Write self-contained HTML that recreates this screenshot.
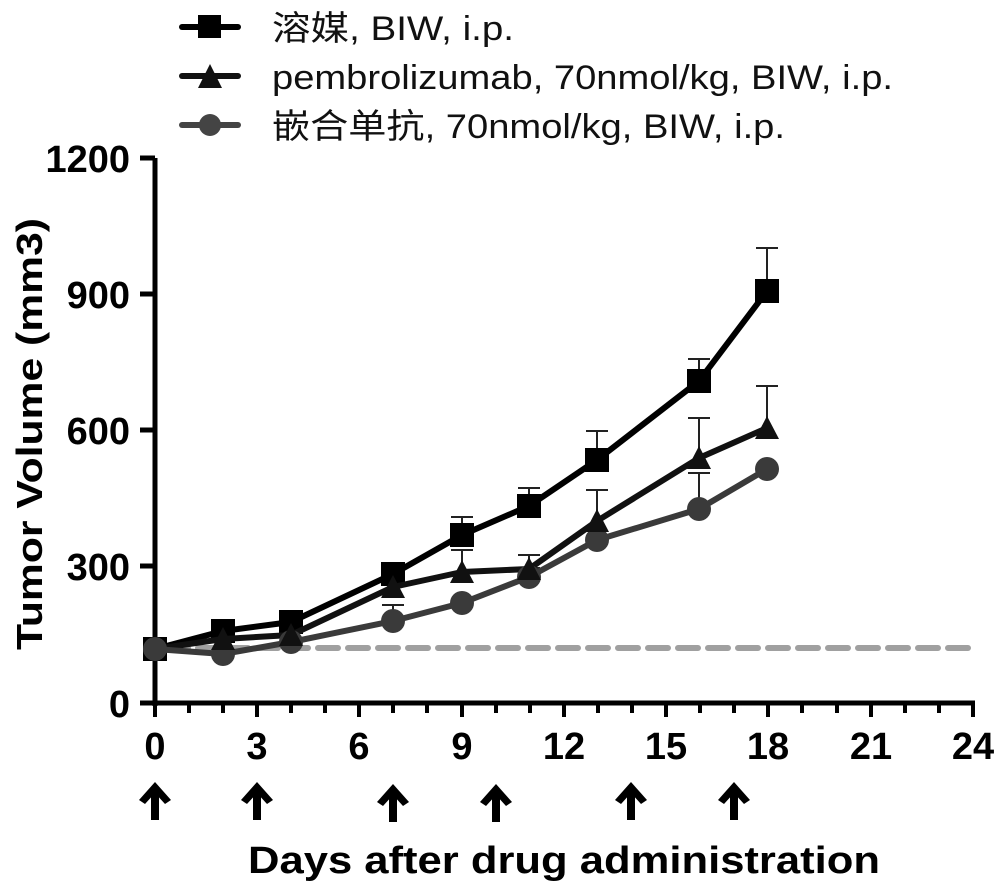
<!DOCTYPE html><html><head><style>body{margin:0;background:#fff}svg{display:block}text{font-family:"Liberation Sans","Noto Sans CJK SC",sans-serif}</style></head><body>
<svg width="1000" height="894" viewBox="0 0 1000 894">
<g stroke-linecap="round">
<line x1="182" y1="27" x2="238" y2="27" stroke="#000" stroke-width="6"/><rect x="198" y="15" width="23" height="23" fill="#000"/>
<line x1="182" y1="76" x2="238" y2="76" stroke="#111" stroke-width="6"/><polygon points="210,64 222,88 198,88" fill="#111"/>
<line x1="182" y1="125" x2="238" y2="125" stroke="#444" stroke-width="6"/><circle cx="210" cy="125" r="11" fill="#444"/>
</g>
<g font-size="34" fill="#111">
<text x="272" y="40" textLength="242" lengthAdjust="spacingAndGlyphs">溶媒, BIW, i.p.</text>
<text x="272" y="89" textLength="621" lengthAdjust="spacingAndGlyphs">pembrolizumab, 70nmol/kg, BIW, i.p.</text>
<text x="272" y="138" textLength="513" lengthAdjust="spacingAndGlyphs">嵌合单抗, 70nmol/kg, BIW, i.p.</text>
</g>
<g stroke="#000" stroke-width="5">
<line x1="155" y1="158" x2="155" y2="706"/>
<line x1="140" y1="158" x2="155" y2="158"/><line x1="140" y1="294" x2="155" y2="294"/><line x1="140" y1="430" x2="155" y2="430"/><line x1="140" y1="566" x2="155" y2="566"/><line x1="140" y1="703" x2="155" y2="703"/>
<line x1="140" y1="703" x2="975" y2="703"/>
</g>
<g font-size="38" font-weight="bold" text-anchor="end" fill="#000">
<text x="130" y="172">1200</text><text x="130" y="308">900</text><text x="130" y="444">600</text><text x="130" y="580">300</text><text x="130" y="717">0</text>
</g>
<g font-size="38" font-weight="bold" text-anchor="middle" fill="#000">
<text x="155" y="759">0</text><text x="257" y="759">3</text><text x="359" y="759">6</text><text x="462" y="759">9</text><text x="564" y="759">12</text><text x="666" y="759">15</text><text x="768" y="759">18</text><text x="871" y="759">21</text><text x="973" y="759">24</text>
</g>
<text x="248" y="873" font-size="38" font-weight="bold" textLength="632" lengthAdjust="spacingAndGlyphs">Days after drug administration</text>
<text transform="translate(42,650) rotate(-90)" font-size="36" font-weight="bold" textLength="432" lengthAdjust="spacingAndGlyphs">Tumor Volume (mm3)</text>
<line x1="168" y1="648" x2="975" y2="648" stroke="#a0a0a0" stroke-width="6" stroke-dasharray="20,10" stroke-linecap="round"/>
<g stroke="#222" stroke-width="2">
<path d="M767 291V248M756 248H778M699 381V359M688 359H710M597 460V431M586 431H608M529 506V488M518 488H540M462 535V517M451 517H473M393 574V565M382 565H404"/>
<path d="M767 428V386M756 386H778M699 458V418M688 418H710M597 517V490M586 490H608M529 569V555M518 555H540M462 572V550M451 550H473"/>
<path d="M699 509V473M688 473H710M393 621V605M382 605H404M529 577V568M518 568H540"/>
</g>
<polyline fill="none" stroke="#000" stroke-width="6" stroke-linejoin="round" points="155,649 223,631 291,622 393,574 462,535 529,506 597,460 699,381 767,291"/>
<g fill="#000"><rect x="143" y="637" width="24" height="24"/><rect x="211" y="619" width="24" height="24"/><rect x="279" y="610" width="24" height="24"/><rect x="381" y="562" width="24" height="24"/><rect x="450" y="523" width="24" height="24"/><rect x="517" y="494" width="24" height="24"/><rect x="585" y="448" width="24" height="24"/><rect x="687" y="369" width="24" height="24"/><rect x="755" y="279" width="24" height="24"/></g>
<polyline fill="none" stroke="#111" stroke-width="6" stroke-linejoin="round" points="155,649 223,639 291,635 393,587 462,572 529,569 597,521 699,458 767,428"/>
<polyline fill="none" stroke="#3a3a3a" stroke-width="6" stroke-linejoin="round" points="155,649 223,654 291,642 393,621 462,603 529,577 597,540 699,509 767,469"/>
<g fill="#3a3a3a"><circle cx="155" cy="649" r="12"/><circle cx="223" cy="654" r="12"/><circle cx="291" cy="642" r="12"/><circle cx="393" cy="621" r="12"/><circle cx="462" cy="603" r="12"/><circle cx="529" cy="577" r="12"/><circle cx="597" cy="540" r="12"/><circle cx="699" cy="509" r="12"/><circle cx="767" cy="469" r="12"/></g>
<g fill="#111">
<polygon points="223,627 235,650 211,650"/><polygon points="291,623 303,646 279,646"/><polygon points="393,575 405,598 381,598"/><polygon points="462,560 474,583 450,583"/><polygon points="529,557 541,580 517,580"/><polygon points="597,509 609,532 585,532"/><polygon points="699,446 711,469 687,469"/><polygon points="767,416 779,439 755,439"/>
</g>
<g fill="#000">
<g transform="translate(155,801)"><rect x="-4" y="-12" width="8" height="31"/><polygon points="0,-19 -16,-1 -10,3 0,-8 10,3 16,-1"/></g>
<g transform="translate(257,801)"><rect x="-4" y="-12" width="8" height="31"/><polygon points="0,-19 -16,-1 -10,3 0,-8 10,3 16,-1"/></g>
<g transform="translate(393,803)"><rect x="-4" y="-12" width="8" height="31"/><polygon points="0,-19 -16,-1 -10,3 0,-8 10,3 16,-1"/></g>
<g transform="translate(496,803)"><rect x="-4" y="-12" width="8" height="31"/><polygon points="0,-19 -16,-1 -10,3 0,-8 10,3 16,-1"/></g>
<g transform="translate(631,801)"><rect x="-4" y="-12" width="8" height="31"/><polygon points="0,-19 -16,-1 -10,3 0,-8 10,3 16,-1"/></g>
<g transform="translate(734,801)"><rect x="-4" y="-12" width="8" height="31"/><polygon points="0,-19 -16,-1 -10,3 0,-8 10,3 16,-1"/></g>
</g>
<g stroke="#000" stroke-width="4">
<path d="M155 703v14M189 703v10M223 703v10M257 703v14M291 703v10M325 703v10M359 703v14M393 703v10M427 703v10M462 703v14M496 703v10M530 703v10M564 703v14M598 703v10M632 703v10M666 703v14M700 703v10M734 703v10M768 703v14M802 703v10M837 703v10M871 703v14M905 703v10M939 703v10M973 703v14"/>
</g>
</svg>
</body></html>
